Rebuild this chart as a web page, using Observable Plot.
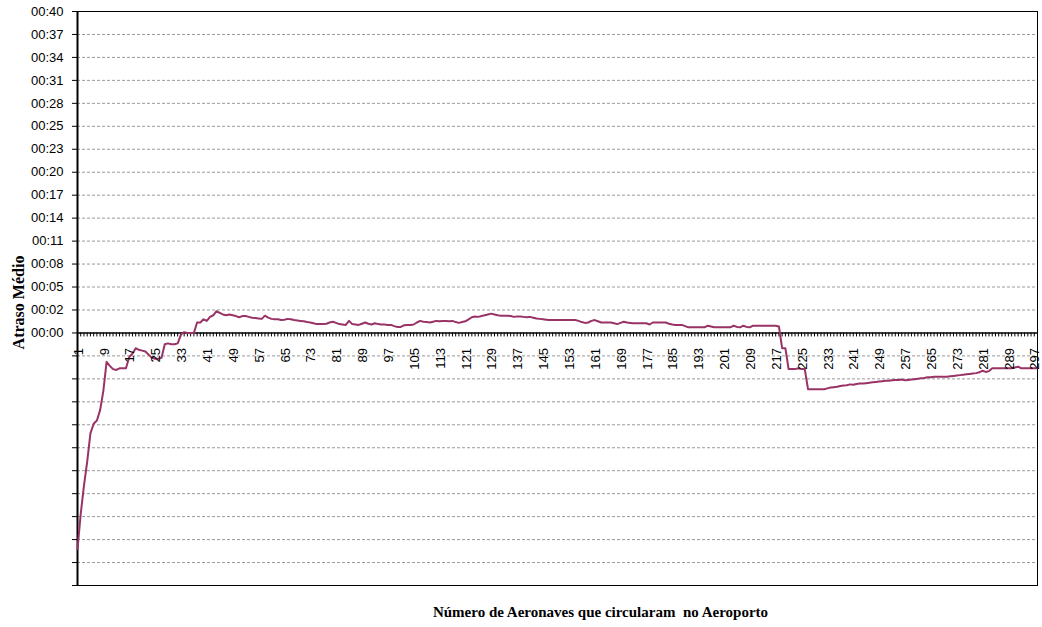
<!DOCTYPE html>
<html><head><meta charset="utf-8">
<script src="https://cdn.jsdelivr.net/npm/d3@7"></script>
<script src="https://cdn.jsdelivr.net/npm/@observablehq/plot@0.6"></script>
<style>body{margin:0;background:#fff}</style>
</head><body><div id="chart"></div>
<script>
// Average delay (minutes) per aircraft index
const delays = [
 -26.9, -22.5, -19.0, -16.0, -12.5, -11.3, -10.9, -9.6, -7.2, -3.6,
 -4.1, -4.5, -4.6, -4.4, -4.4, -4.4, -3.0, -2.6, -1.9, -2.1,
 -2.2, -2.3, -2.7, -3.1, -3.2, -3.2, -3.1, -1.4, -1.3, -1.4,
 -1.4, -1.3, -0.2, 0.1, 0.0, 0.0, 0.0, 1.3, 1.3, 1.7,
 1.5, 2.0, 2.2, 2.7, 2.5, 2.3, 2.2, 2.3, 2.2, 2.1,
 1.95, 2.1, 2.1, 2.0, 1.9, 1.85, 1.8, 1.75, 2.15, 1.9,
 1.75, 1.7, 1.7, 1.6, 1.65, 1.75, 1.7, 1.6, 1.55, 1.5,
 1.45, 1.35, 1.3, 1.2, 1.1, 1.1, 1.1, 1.15, 1.3, 1.4,
 1.25, 1.1, 1.05, 1.0, 1.5, 1.1, 1.05, 1.0, 1.15, 1.3,
 1.15, 1.05, 1.2, 1.1, 1.05, 1.05, 1.0, 1.0, 0.85, 0.75,
 0.75, 0.95, 1.0, 1.0, 1.05, 1.3, 1.5, 1.4, 1.35, 1.3,
 1.4, 1.5, 1.45, 1.5, 1.5, 1.45, 1.5, 1.35, 1.25, 1.35,
 1.45, 1.7, 1.95, 2.05, 2.0, 2.1, 2.2, 2.3, 2.4, 2.3,
 2.2, 2.15, 2.15, 2.15, 2.1, 2.0, 2.05, 2.05, 2.0, 1.95,
 2.0, 1.9, 1.8, 1.75, 1.7, 1.65, 1.6, 1.6, 1.6, 1.6,
 1.6, 1.6, 1.6, 1.6, 1.6, 1.5, 1.35, 1.25, 1.3, 1.5,
 1.6, 1.45, 1.3, 1.3, 1.3, 1.3, 1.2, 1.1, 1.25, 1.4,
 1.3, 1.25, 1.2, 1.2, 1.2, 1.2, 1.2, 1.05, 1.3, 1.3,
 1.3, 1.3, 1.3, 1.15, 1.05, 1.0, 1.0, 1.0, 0.85, 0.7,
 0.7, 0.7, 0.7, 0.7, 0.7, 0.9, 0.8, 0.7, 0.7, 0.7,
 0.7, 0.7, 0.7, 0.9, 0.75, 0.7, 0.9, 0.75, 0.7, 0.9,
 0.9, 0.9, 0.9, 0.9, 0.9, 0.9, 0.9, 0.8, -1.9, -1.9,
 -4.5, -4.5, -4.5, -4.4, -4.5, -4.5, -7.0, -7.0, -7.0, -7.0,
 -7.0, -7.0, -6.9, -6.8, -6.75, -6.7, -6.6, -6.55, -6.5, -6.4,
 -6.45, -6.35, -6.3, -6.3, -6.25, -6.2, -6.15, -6.1, -6.05, -6.0,
 -5.95, -5.95, -5.9, -5.85, -5.85, -5.8, -5.9, -5.85, -5.8, -5.75,
 -5.7, -5.65, -5.6, -5.5, -5.5, -5.45, -5.45, -5.45, -5.45, -5.45,
 -5.4, -5.35, -5.3, -5.25, -5.2, -5.15, -5.1, -5.05, -5.0, -4.9,
 -4.7, -4.85, -4.75, -4.4, -4.4, -4.4, -4.4, -4.4, -4.4, -4.4,
 -4.3, -4.2, -4.4, -4.4, -4.4, -4.4, -4.4, -4.4
];
const aircraft = d3.range(1, delays.length + 1);
const xTickLabels = [1, 9, 17, 25, 33, 41, 49, 57, 65, 73, 81, 89, 97, 105, 113, 121, 129, 137, 145, 153,
  161, 169, 177, 185, 193, 201, 209, 217, 225, 233, 241, 249, 257, 265, 273, 281, 289, 297];
const yTickLabels = ["00:00", "00:02", "00:05", "00:08", "00:11", "00:14", "00:17", "00:20",
  "00:23", "00:25", "00:28", "00:31", "00:34", "00:37", "00:40"];
const yTitle = "Atraso Médio";
const xTitle = "Número de Aeronaves que circularam\u00a0 no Aeroporto";

const yStep = 40 / (yTickLabels.length - 1);
const yTicks = d3.range(-11, yTickLabels.length).map(k => k * yStep);
const data = aircraft.map((a, i) => ({a, v: delays[i]}));
const serif = "Liberation Serif";

const plot = Plot.plot({
  width: 1042, height: 627,
  marginLeft: 77, marginRight: 5, marginTop: 11, marginBottom: 42,
  x: {type: "point", domain: aircraft, padding: 0, axis: null},
  y: {domain: [yTicks[0], 40]},
  style: {fontFamily: "Liberation Sans, Arial, sans-serif", fontSize: "13px", background: "white", color: "black"},
  marks: [
    Plot.ruleY(yTicks.filter((d, i) => i > 0 && i < yTicks.length - 1 && Math.abs(d) > 1e-9),
      {stroke: "#9a9a9a", strokeDasharray: "3,2"}),
    Plot.frame({stroke: "black"}),
    Plot.ruleY([0], {stroke: "black", strokeWidth: 1.5}),
    Plot.ruleX(aircraft, {x: d => d, y1: 0, y2: 0, insetTop: 0, insetBottom: -4, stroke: "black", strokeWidth: 1}),
    Plot.axisY({ticks: yTicks, tickSize: 5, tickPadding: 9, fontSize: 13, label: null,
      tickFormat: d => { const k = Math.round(d / yStep); return k >= 0 ? yTickLabels[k] : ""; }}),
    Plot.ruleX([aircraft[0]], {stroke: "black", strokeWidth: 2}),
    Plot.line(data, {x: "a", y: "v", stroke: "#993366", strokeWidth: 2}),
    Plot.text(xTickLabels, {x: d => d, y: 0, text: d => String(d), rotate: -90, textAnchor: "end",
      dy: 15, dx: 1, fontSize: 13, fill: "black"}),
    Plot.text([yTitle], {frameAnchor: "left", rotate: -90, dx: -59, dy: 4, textAnchor: "middle", lineAnchor: "middle",
      fontFamily: serif, fontWeight: "bold", fontSize: 16, fill: "black"}),
    Plot.text([xTitle], {frameAnchor: "bottom", dx: 43, dy: 27, textAnchor: "middle", lineAnchor: "middle",
      fontFamily: serif, fontWeight: "bold", fontSize: 15, fill: "black"})
  ]
});
document.getElementById("chart").appendChild(plot);
</script>
</body></html>
